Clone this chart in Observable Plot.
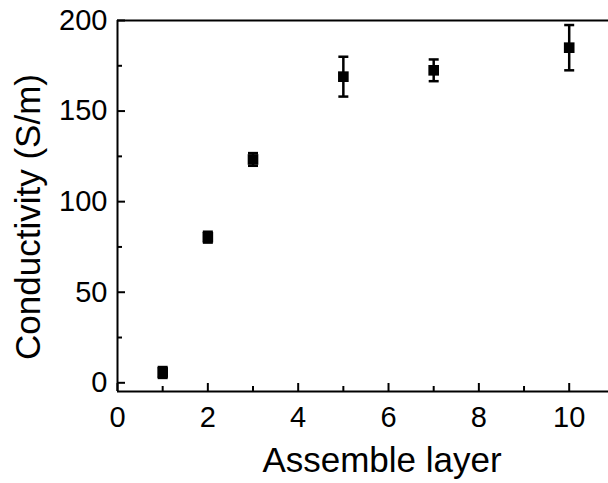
<!DOCTYPE html>
<html>
<head>
<meta charset="utf-8">
<script src="https://cdn.jsdelivr.net/npm/d3@7"></script>
<script src="https://cdn.jsdelivr.net/npm/@observablehq/plot@0.6"></script>
<style>
  html, body { margin: 0; padding: 0; background: #fff; }
</style>
</head>
<body>
<div id="chart"></div>
<script>
const layers = [1, 2, 3, 5, 7, 10];
const conductivity = [5.7, 80.4, 123.3, 169, 172.5, 185];
const errors = [3, 3, 3.5, 11, 6, 12.5];
const xTicks = [0, 2, 4, 6, 8, 10];
const xMinorTicks = [1, 3, 5, 7, 9];
const yTicks = [0, 50, 100, 150, 200];
const yMinorTicks = [25, 75, 125, 175];
const xTitle = "Assemble layer";
const yTitle = "Conductivity (S/m)";

const data = layers.map((x, i) => ({x, y: conductivity[i], lo: conductivity[i] - errors[i], hi: conductivity[i] + errors[i]}));

const xDomain = [0, 10.87];
const yDomain = [-4.8, 200];

const capSymbol = {
  draw(context, size) {
    const w = Math.sqrt(size / Math.PI);
    context.moveTo(-w, 0);
    context.lineTo(w, 0);
  }
};

const font = "'Liberation Sans', Arial, Helvetica, sans-serif";

const chart = Plot.plot({
  width: 608,
  height: 483,
  marginLeft: 117,
  marginRight: 0,
  marginTop: 20,
  marginBottom: 92,
  style: {fontFamily: font, background: "#fff", color: "#000"},
  x: {domain: xDomain},
  y: {domain: yDomain},
  marks: [
    // frame lines
    Plot.ruleY([yDomain[1]], {stroke: "#000", strokeWidth: 2}),
    Plot.ruleY([yDomain[0]], {stroke: "#000", strokeWidth: 2}),
    Plot.ruleX([xDomain[0]], {stroke: "#000", strokeWidth: 2}),
    // inward ticks
    Plot.axisX({ticks: xTicks, tickSize: -8, fill: "none", strokeWidth: 2, label: null}),
    Plot.axisX({ticks: xMinorTicks, tickSize: -5, fill: "none", strokeWidth: 2, label: null}),
    Plot.axisY({ticks: yTicks, tickSize: -8, fill: "none", strokeWidth: 2, label: null}),
    Plot.axisY({ticks: yMinorTicks, tickSize: -5, fill: "none", strokeWidth: 2, label: null}),
    // tick labels
    Plot.axisX({ticks: xTicks, tickSize: 0, tickPadding: 15, fontSize: 29, label: null}),
    Plot.axisY({ticks: yTicks, tickSize: 0, tickPadding: 10, fontSize: 29, label: null}),
    // axis titles
    Plot.text([xTitle], {frameAnchor: "bottom", text: d => d, dx: 19, dy: 56, lineAnchor: "top", textAnchor: "middle", fontSize: 35, fill: "#000"}),
    Plot.text([yTitle], {frameAnchor: "left", text: d => d, rotate: -90, dx: -102, dy: 11, lineAnchor: "top", textAnchor: "middle", fontSize: 35, fill: "#000"}),
    // error bars
    Plot.ruleX(data, {x: "x", y1: "lo", y2: "hi", stroke: "#000", strokeWidth: 2.5}),
    Plot.dot(data, {x: "x", y: "lo", symbol: capSymbol, r: 5, stroke: "#000", strokeWidth: 2.5}),
    Plot.dot(data, {x: "x", y: "hi", symbol: capSymbol, r: 5, stroke: "#000", strokeWidth: 2.5}),
    // markers
    Plot.dot(data, {x: "x", y: "y", symbol: "square", r: 6, fill: "#000", stroke: "none"})
  ]
});

document.getElementById("chart").appendChild(chart);
</script>
</body>
</html>
